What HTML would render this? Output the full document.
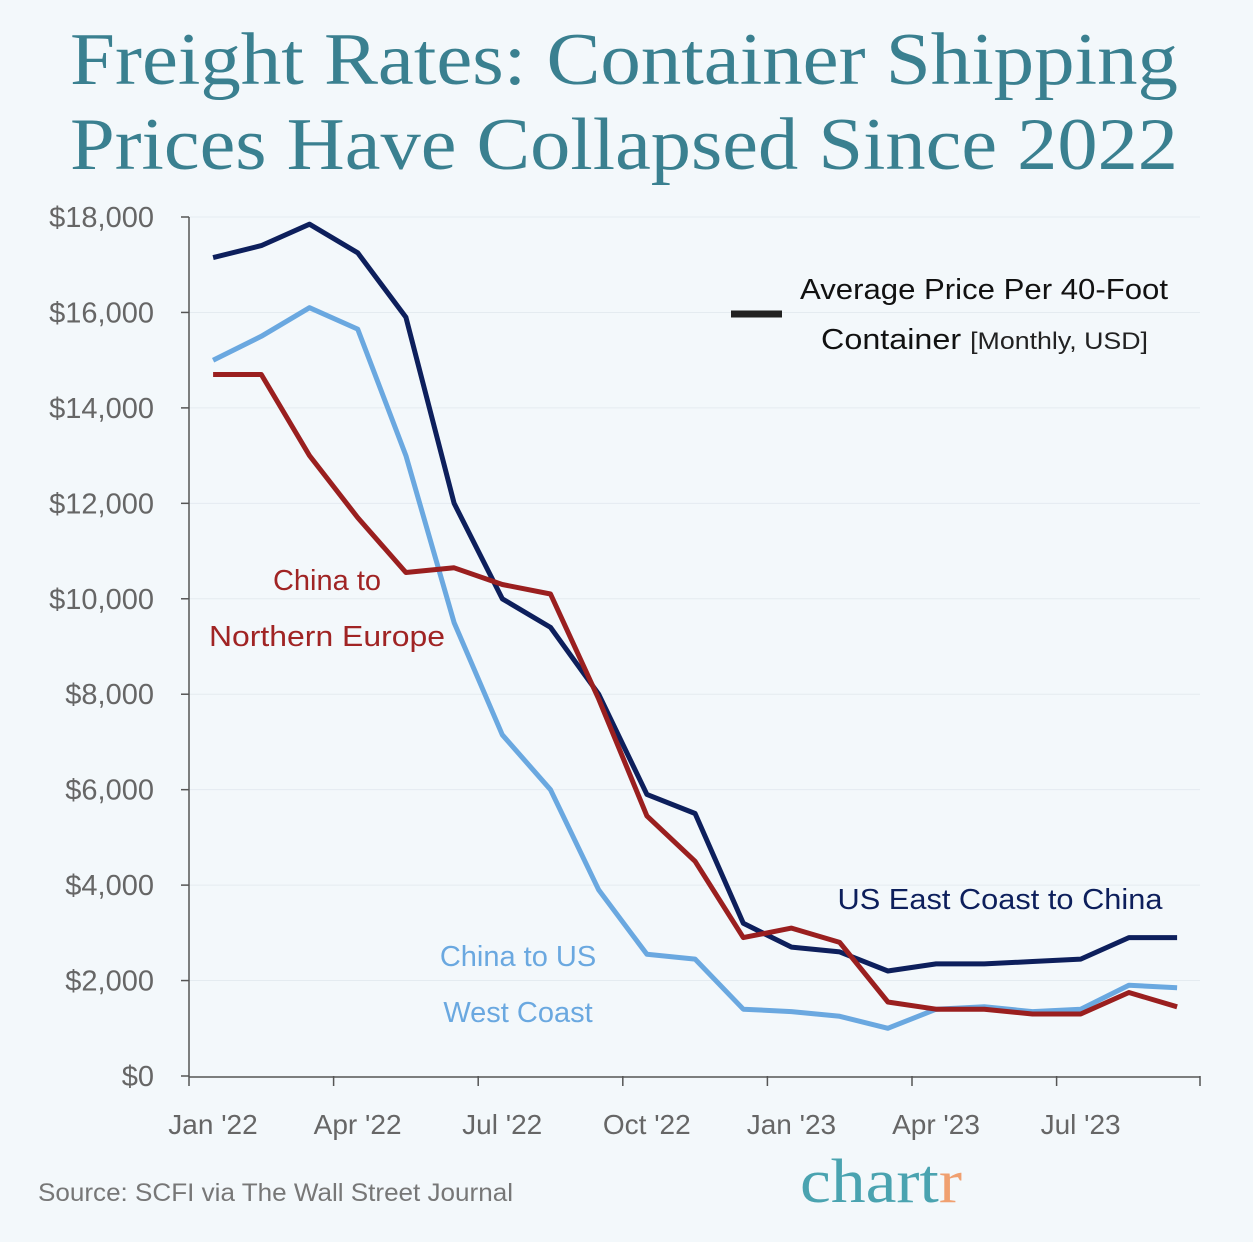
<!DOCTYPE html>
<html><head><meta charset="utf-8"><style>
html,body{margin:0;padding:0;background:#f3f8fb;}
svg{display:block;}
</style></head><body>
<svg id="chart" width="1253" height="1242" viewBox="0 0 1253 1242" xmlns="http://www.w3.org/2000/svg">
<rect width="1253" height="1242" fill="#f3f8fb"/>
<g font-family="Liberation Serif, serif" fill="#3a8090" font-size="74">
<text x="70" y="84" textLength="1108" lengthAdjust="spacingAndGlyphs">Freight Rates: Container Shipping</text>
<text x="70" y="169" textLength="1108" lengthAdjust="spacingAndGlyphs">Prices Have Collapsed Since 2022</text>
</g>
<g id="grid"></g><g id="axes"></g><g id="series"></g>
<g font-family="Liberation Sans, sans-serif">
<line x1="731" y1="314" x2="782" y2="314" stroke="#222" stroke-width="7"/>
<text x="800" y="299" font-size="29" fill="#111" textLength="368" lengthAdjust="spacingAndGlyphs">Average Price Per 40-Foot</text>
<text x="821" y="349" font-size="29" fill="#111" textLength="327" lengthAdjust="spacingAndGlyphs">Container <tspan font-size="24" fill="#222">[Monthly, USD]</tspan></text>
<text x="327" y="590" font-size="29" fill="#a02424" text-anchor="middle">China to</text>
<text x="327" y="646" font-size="29" fill="#a02424" text-anchor="middle" textLength="236" lengthAdjust="spacingAndGlyphs">Northern Europe</text>
<text x="1000" y="909" font-size="29" fill="#0d1f5c" text-anchor="middle" textLength="325" lengthAdjust="spacingAndGlyphs">US East Coast to China</text>
<text x="518" y="966" font-size="29" fill="#6aa8e0" text-anchor="middle">China to US</text>
<text x="518" y="1022" font-size="29" fill="#6aa8e0" text-anchor="middle">West Coast</text>
<text x="38" y="1201" font-size="25" fill="#777" textLength="475" lengthAdjust="spacingAndGlyphs">Source: SCFI via The Wall Street Journal</text>
<text x="800" y="1202" font-size="62" font-family="Liberation Serif, serif" fill="#4aa3b0" textLength="162" lengthAdjust="spacingAndGlyphs">chart<tspan fill="#f0a070">r</tspan></text>
</g>
</svg>
<script>
const yTicks=[0,2000,4000,6000,8000,10000,12000,14000,16000,18000];
const xTickLabels=["Jan '22","Apr '22","Jul '22","Oct '22","Jan '23","Apr '23","Jul '23"];
const xTickMonths=[0,3,6,9,12,15,18];
const usEastToChina=[17150,17400,17850,17250,15900,12000,10000,9400,8000,5900,5500,3200,2700,2600,2200,2350,2350,2400,2450,2900,2900];
const chinaToUSWest=[15000,15500,16100,15650,13000,9500,7150,6000,3900,2550,2450,1400,1350,1250,1000,1400,1450,1350,1400,1900,1850];
const chinaToNEurope=[14700,14700,13000,11700,10550,10650,10300,10100,7900,5450,4500,2900,3100,2800,1550,1400,1400,1300,1300,1750,1450];
const NS="http://www.w3.org/2000/svg";
const X0=189,MW=48.2,Y0=1076,YS=(1076-217)/18000;
const x=m=>X0+MW*m, y=v=>Y0-v*YS;
function mk(t,a,p){const e=document.createElementNS(NS,t);for(const k in a)e.setAttribute(k,a[k]);p.appendChild(e);return e;}
const grid=document.getElementById('grid'),axes=document.getElementById('axes'),ser=document.getElementById('series');
yTicks.forEach(v=>{
 if(v>0){const g=mk('line',{x1:X0,x2:1200,y1:y(v),y2:y(v),stroke:'#e4ebf0','stroke-width':1},grid);
 
 }
 const t=mk('text',{x:154,y:y(v)+10,'text-anchor':'end','font-size':29,fill:'#666','font-family':'Liberation Sans, sans-serif'},axes);
 t.textContent='$'+v.toLocaleString('en-US');
 
 
 const tk=mk('line',{x1:X0-8,x2:X0,y1:y(v),y2:y(v),stroke:'#555','stroke-width':1.5},axes);
 
 
});
const ya=mk('line',{x1:X0,x2:X0,y1:y(18000),y2:Y0,stroke:'#555','stroke-width':1.5},axes);


const xa=mk('line',{x1:X0,x2:1200,y1:Y0+1,y2:Y0+1,stroke:'#555','stroke-width':1.5},axes);


xTickMonths.forEach((m,i)=>{
 const tk=mk('line',{x1:x(m),x2:x(m),y1:Y0,y2:Y0+10,stroke:'#555','stroke-width':1.5},axes);
 
 
 const t=mk('text',{x:x(m)+24,y:1134,'text-anchor':'middle','font-size':28,fill:'#666','font-family':'Liberation Sans, sans-serif'},axes);
 t.textContent=xTickLabels[i];
 
 
});
const tk2=mk('line',{x1:1200,x2:1200,y1:Y0,y2:Y0+10,stroke:'#555','stroke-width':1.5},axes);


function line(data,color,name){
 const d=data.map((v,i)=>(i?'L':'M')+x(i+0.5).toFixed(1)+','+y(v).toFixed(1)).join('');
 const p=mk('path',{d:d,fill:'none',stroke:color,'stroke-width':5,'stroke-linejoin':'round'},ser);
 
 
}
line(chinaToUSWest,'#6aa8e0','line-china-us-west-coast');
line(usEastToChina,'#0d1f5c','line-us-east-coast-china');
line(chinaToNEurope,'#9a1f1f','line-china-northern-europe');
</script>
</body></html>
